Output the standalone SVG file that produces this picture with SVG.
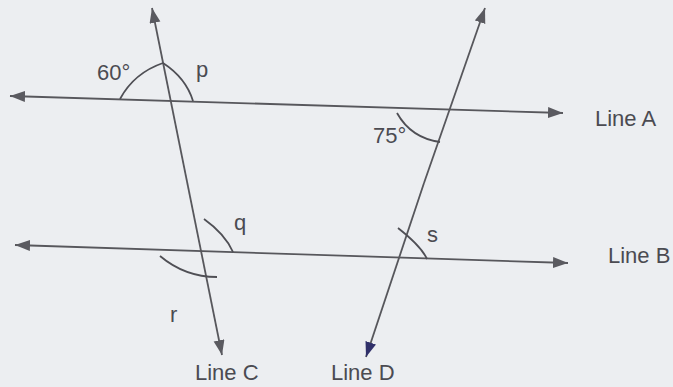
<svg xmlns="http://www.w3.org/2000/svg" width="673" height="387" viewBox="0 0 673 387">
<defs>
<style>
.ln{stroke:#57575c;stroke-width:1.8;fill:none}
.arc{stroke:#4f4f55;stroke-width:1.8;fill:none}
.lbl{font-family:"Liberation Sans",Arial,sans-serif;font-size:22px;fill:#4b4b52}
</style>
<marker id="ah" markerUnits="userSpaceOnUse" markerWidth="16" markerHeight="12" refX="15" refY="5.5" orient="auto-start-reverse">
<path d="M0,0 L15,5.5 L0,11 z" fill="#5a5a60"/>
</marker>
<marker id="ahd" markerUnits="userSpaceOnUse" markerWidth="16" markerHeight="12" refX="15" refY="5.5" orient="auto-start-reverse">
<path d="M0,0 L15,5.5 L0,11 z" fill="#30306a"/>
</marker>
</defs>
<rect width="673" height="387" fill="#eceef1"/>
<g id="connectors">
<line id="lineA" class="ln" x1="10" y1="96" x2="563" y2="113" marker-start="url(#ah)" marker-end="url(#ah)"/>
<line id="lineB" class="ln" x1="15" y1="245" x2="568" y2="263" marker-start="url(#ah)" marker-end="url(#ah)"/>
<line id="lineC" class="ln" x1="152" y1="8" x2="222" y2="355" marker-start="url(#ah)" marker-end="url(#ah)"/>
<line id="lineD-up" class="ln" x1="424" y1="183" x2="485" y2="8" marker-end="url(#ah)"/>
<line id="lineD-down" class="ln" x1="424" y1="183" x2="366" y2="357" marker-end="url(#ahd)"/>
</g>
<g id="angle-60">
<path class="arc" d="M120,99 Q134,73 163,63"/>
<text class="lbl" x="97" y="80">60°</text>
</g>
<g id="angle-p">
<path class="arc" d="M163,63 Q186,78 193,101"/>
<text class="lbl" x="196" y="77">p</text>
</g>
<g id="angle-75">
<path class="arc" d="M397,113 Q411,138 440,142"/>
<text class="lbl" x="373" y="143">75°</text>
</g>
<g id="angle-q">
<path class="arc" d="M204,219 Q225,234 233,252"/>
<text class="lbl" x="234" y="230">q</text>
</g>
<g id="angle-r">
<path class="arc" d="M160,256 Q185,277 217,277"/>
<text class="lbl" x="170" y="322">r</text>
</g>
<g id="angle-s">
<path class="arc" d="M398,228 Q421,246 427,259"/>
<text class="lbl" x="427" y="242">s</text>
</g>
<g id="label-lineA"><text class="lbl" x="595" y="126">Line A</text></g>
<g id="label-lineB"><text class="lbl" x="608" y="263">Line B</text></g>
<g id="label-lineC"><text class="lbl" x="195" y="380">Line C</text></g>
<g id="label-lineD"><text class="lbl" x="331" y="380">Line D</text></g>
</svg>
